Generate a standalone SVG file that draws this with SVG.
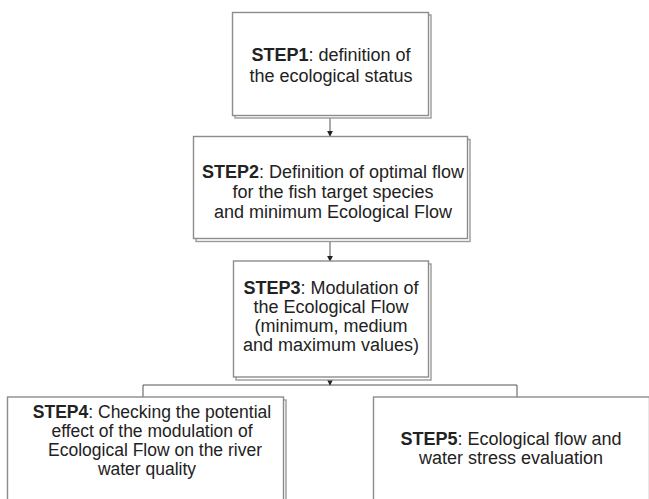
<svg xmlns="http://www.w3.org/2000/svg" width="649" height="499" viewBox="0 0 649 499">
<defs>
<style>
.box{fill:#ffffff;stroke:#8c8c8c;stroke-width:1.4}
.shadow{fill:#ffffff;stroke:#9a9a9a;stroke-width:1.4}
.t{font-family:"Liberation Sans",Arial,sans-serif;font-size:18px;fill:#222222;text-anchor:middle}
.s{font-size:17.5px}
.b{font-weight:bold}
.conn{fill:none;stroke:#555555;stroke-width:1}
</style>
<marker id="arr" viewBox="0 0 8 8" refX="7" refY="4" markerWidth="6" markerHeight="6" orient="auto" markerUnits="userSpaceOnUse">
<path d="M0,0 L8,4 L0,8 z" fill="#222222"/>
</marker>
</defs>
<rect width="649" height="499" fill="#ffffff"/>
<g id="connectors">
<line class="conn" x1="330" y1="118" x2="330" y2="136" marker-end="url(#arr)"/>
<line class="conn" x1="330" y1="242" x2="330" y2="261" marker-end="url(#arr)"/>
<line class="conn" x1="330" y1="379" x2="330" y2="385" marker-end="url(#arr)"/>
<polyline class="conn" points="143,397 143,385 517,385 517,397"/>
</g>
<g id="step1">
<rect class="shadow" x="235" y="15" width="196" height="103"/>
<rect class="box" x="232.5" y="12.5" width="196" height="103"/>
<text class="t" x="331" y="61"><tspan class="b">STEP1</tspan>: definition of</text>
<text class="t" x="331" y="82">the ecological status</text>
</g>
<g id="step2">
<rect class="shadow" x="196" y="139.5" width="274" height="102"/>
<rect class="box" x="193.5" y="136.5" width="274" height="102"/>
<text class="t" x="333" y="178"><tspan class="b">STEP2</tspan>: Definition of optimal flow</text>
<text class="t" x="333" y="198">for the fish target species</text>
<text class="t" x="333" y="218">and minimum Ecological Flow</text>
</g>
<g id="step3">
<rect class="shadow" x="236" y="264" width="195" height="116"/>
<rect class="box" x="233.5" y="261" width="195" height="116"/>
<text class="t" x="331" y="294"><tspan class="b">STEP3</tspan>: Modulation of</text>
<text class="t" x="331" y="313">the Ecological Flow</text>
<text class="t" x="331" y="332">(minimum, medium</text>
<text class="t" x="331" y="351">and maximum values)</text>
</g>
<g id="step4">
<rect class="shadow" x="10" y="400" width="276" height="110"/>
<rect class="box" x="7.5" y="397" width="276" height="110"/>
<text class="t s" x="152" y="418"><tspan class="b">STEP4</tspan>: Checking the potential</text>
<text class="t s" x="152" y="437">effect of the modulation of</text>
<text class="t s" x="155" y="456">Ecological Flow on the river</text>
<text class="t s" x="147" y="475">water quality</text>
</g>
<g id="step5">
<rect class="shadow" x="376" y="400" width="276" height="110"/>
<rect class="box" x="373.5" y="397" width="276" height="110"/>
<text class="t" x="511" y="445"><tspan class="b">STEP5</tspan>: Ecological flow and</text>
<text class="t" x="511" y="464">water stress evaluation</text>
</g>
</svg>
